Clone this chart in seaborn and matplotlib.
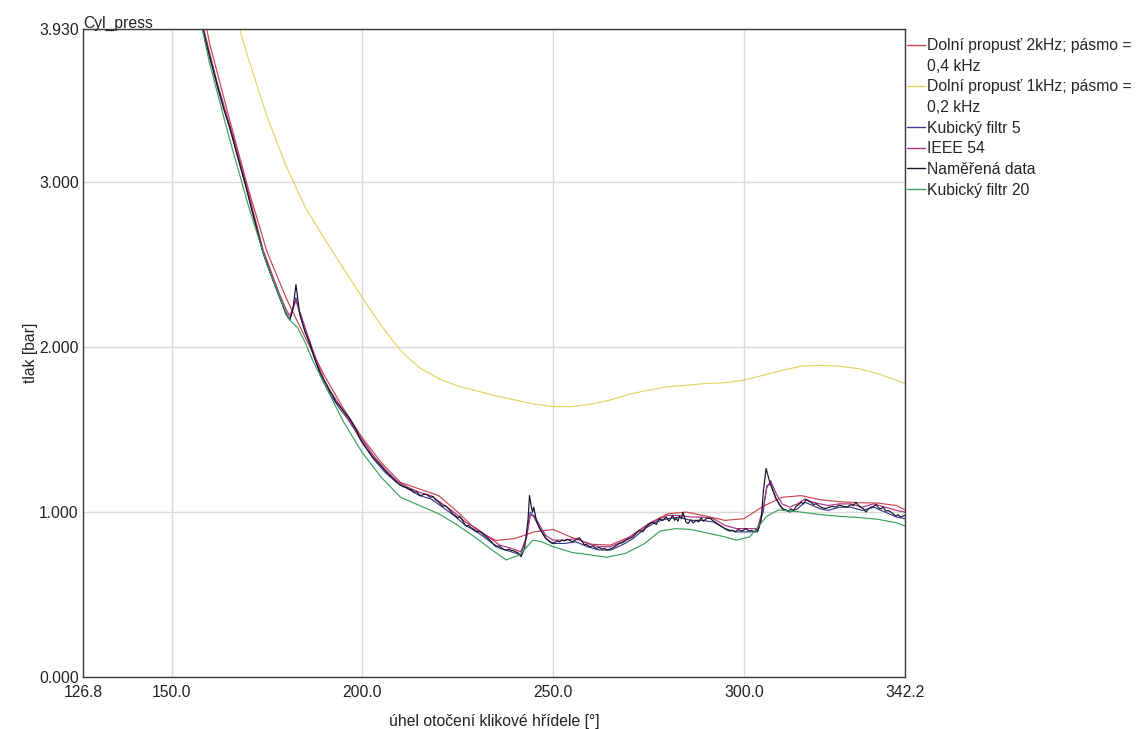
import numpy as np
import pandas as pd
import matplotlib
matplotlib.use("Agg")
import matplotlib.pyplot as plt
import seaborn as sns
from matplotlib.lines import Line2D

# ---------------- data ----------------
series_names = [
    "Dolní propusť 2kHz; pásmo = 0,4 kHz",
    "Dolní propusť 1kHz; pásmo = 0,2 kHz",
    "Kubický filtr 5",
    "IEEE 54",
    "Naměřená data",
    "Kubický filtr 20",
]
legend_labels = [
    "Dolní propusť 2kHz; pásmo =", "0,4 kHz",
    "Dolní propusť 1kHz; pásmo =", "0,2 kHz",
    "Kubický filtr 5", "IEEE 54", "Naměřená data", "Kubický filtr 20",
]

xticks = [126.8, 150.0, 200.0, 250.0, 300.0, 342.2]
xtick_labels = ["126.8", "150.0", "200.0", "250.0", "300.0", "342.2"]
yticks = [0.0, 1.0, 2.0, 3.0, 3.93]
ytick_labels = ["0.000", "1.000", "2.000", "3.000", "3.930"]

# smooth low-pass curves
lp_angle = [126.8, 140, 150, 155, 160, 165, 170, 175, 180, 185,
            190, 195, 200, 205, 210, 215, 220, 225, 230, 235,
            240, 245, 250, 255, 260, 265, 270, 275, 280, 285,
            290, 295, 300, 305, 310, 315, 320, 325, 330, 335,
            340, 342.2]
lp2k_value = [7.6, 6.1, 5.0, 4.42, 3.84, 3.40, 2.97, 2.58, 2.30, 2.06,
              1.83, 1.63, 1.45, 1.30, 1.18, 1.14, 1.10, 1.0, 0.89, 0.828,
              0.84, 0.88, 0.895, 0.845, 0.805, 0.80, 0.85, 0.93, 0.99, 1.0,
              0.976, 0.95, 0.96, 1.035, 1.09, 1.10, 1.075, 1.063, 1.057, 1.055,
              1.04, 1.013]
lp1k_value = [7.6, 6.3, 5.4, 4.95, 4.55, 4.16, 3.76, 3.40, 3.10, 2.85,
              2.66, 2.48, 2.30, 2.13, 1.98, 1.875, 1.81, 1.765, 1.735, 1.705,
              1.68, 1.655, 1.64, 1.64, 1.655, 1.68, 1.715, 1.74, 1.76, 1.77,
              1.78, 1.785, 1.80, 1.83, 1.86, 1.885, 1.89, 1.885, 1.87, 1.84,
              1.80, 1.78]

# filtered curves (cubic 5, IEEE 54)
flt_angle = [126.8, 140, 150, 155, 158, 162, 166, 170, 174, 178,
             180, 181, 182.6, 184, 186, 188, 190, 192, 194, 196,
             198, 200, 203, 206, 209, 212, 215, 218, 221, 224,
             227, 230, 233, 236, 239, 241.5, 243, 244, 245, 246.5,
             248, 250, 253, 256, 259, 262, 265, 268, 271, 274,
             277, 280, 283, 286, 289, 292, 295, 298, 301, 303.5,
             305, 306, 307, 308.5, 310, 312, 314, 316, 318, 320,
             322, 325, 328, 331, 334, 337, 340, 342.2]
cub5_value = [7.5, 6.0, 4.9, 4.3, 3.95, 3.58, 3.27, 2.93, 2.57, 2.32,
              2.21, 2.17, 2.30, 2.17, 2.03, 1.90, 1.78, 1.70, 1.63, 1.57,
              1.50, 1.42, 1.32, 1.24, 1.18, 1.14, 1.10, 1.08, 1.03, 0.98,
              0.92, 0.88, 0.83, 0.78, 0.76, 0.74, 0.85, 1.0, 0.97, 0.90,
              0.84, 0.81, 0.81, 0.82, 0.79, 0.77, 0.77, 0.80, 0.84, 0.90,
              0.94, 0.96, 0.97, 0.95, 0.95, 0.94, 0.90, 0.88, 0.88, 0.88,
              1.0, 1.16, 1.17, 1.08, 1.02, 1.00, 1.02, 1.06, 1.04, 1.02,
              1.01, 1.03, 1.03, 1.01, 1.03, 1.00, 0.97, 0.96]
ieee_value = [7.5, 6.0, 4.9, 4.32, 3.97, 3.6, 3.29, 2.95, 2.59, 2.34,
              2.23, 2.19, 2.28, 2.19, 2.05, 1.92, 1.80, 1.72, 1.65, 1.58,
              1.51, 1.44, 1.34, 1.26, 1.19, 1.15, 1.12, 1.10, 1.05, 1.0,
              0.94, 0.90, 0.85, 0.80, 0.78, 0.76, 0.84, 0.98, 0.98, 0.92,
              0.86, 0.83, 0.83, 0.84, 0.81, 0.79, 0.79, 0.82, 0.86, 0.91,
              0.95, 0.98, 0.98, 0.97, 0.97, 0.96, 0.92, 0.90, 0.90, 0.90,
              1.02, 1.15, 1.19, 1.11, 1.05, 1.03, 1.05, 1.08, 1.06, 1.05,
              1.04, 1.05, 1.05, 1.03, 1.05, 1.03, 1.01, 1.0]

# measured data as (angle, pressure) pairs
meas_points = [
    (126.8, 7.5), (140, 6.0), (150, 4.9), (155, 4.32), (158.2, 3.93),
    (160, 3.76), (162, 3.59), (163.6, 3.45), (165.3, 3.33), (167, 3.18),
    (169.2, 3.0), (171.5, 2.79), (173.9, 2.58), (176, 2.44), (178.4, 2.30),
    (180, 2.20), (181, 2.165), (181.8, 2.23), (182.6, 2.38), (183.1, 2.29),
    (183.6, 2.20), (185, 2.09), (186.2, 2.03), (187.5, 1.93), (189, 1.84),
    (190.5, 1.78), (191.3, 1.74), (192.2, 1.71), (193, 1.67), (194, 1.645),
    (195.5, 1.60), (196.5, 1.575), (197.5, 1.535), (198.4, 1.50), (199.3, 1.45),
    (201, 1.39), (202.7, 1.335), (204.5, 1.29), (206.4, 1.24), (208, 1.205),
    (209.8, 1.165), (210.6, 1.155), (211.5, 1.15), (212.2, 1.14), (213, 1.135),
    (213.6, 1.12), (214.2, 1.125), (214.9, 1.105), (215.5, 1.10), (216.2, 1.11),
    (217, 1.105), (217.8, 1.09), (218.5, 1.095), (219.2, 1.075), (219.8, 1.065),
    (220.5, 1.05), (221.1, 1.035), (221.7, 1.04), (222.4, 1.025), (223, 1.01),
    (223.7, 0.99), (224.3, 0.98), (225, 0.965), (225.5, 0.975), (226, 0.96),
    (226.6, 0.935), (227.2, 0.915), (227.8, 0.92), (228.5, 0.905), (229.2, 0.895),
    (229.9, 0.88), (230.5, 0.885), (231.2, 0.875), (231.9, 0.86), (232.5, 0.85),
    (233.2, 0.835), (233.8, 0.82), (234.5, 0.80), (235.1, 0.79), (235.7, 0.795),
    (236.4, 0.785), (237, 0.775), (237.7, 0.77), (238.4, 0.775), (239, 0.768),
    (239.7, 0.765), (240.3, 0.758), (241, 0.75), (241.6, 0.73), (242.5, 0.78),
    (243, 0.87), (243.4, 0.95), (243.8, 1.10), (244.3, 1.03), (244.6, 1.00),
    (244.9, 1.03), (245.6, 0.95), (246.5, 0.90), (247.3, 0.87), (248.2, 0.84),
    (249.1, 0.82), (249.8, 0.81), (250.4, 0.815), (251, 0.825), (251.7, 0.82),
    (252.3, 0.83), (253, 0.825), (253.6, 0.835), (254.3, 0.83), (255, 0.82),
    (255.6, 0.828), (256.2, 0.835), (256.9, 0.845), (257.3, 0.83), (257.8, 0.815),
    (258.2, 0.80), (258.7, 0.805), (259.5, 0.79), (260.4, 0.795), (261.2, 0.78),
    (262.1, 0.785), (262.8, 0.775), (263.5, 0.78), (264.1, 0.77), (264.8, 0.775),
    (265.4, 0.78), (266.1, 0.79), (266.7, 0.80), (267.4, 0.81), (268.2, 0.815),
    (269.1, 0.83), (270, 0.84), (270.9, 0.85), (271.7, 0.87), (272.6, 0.89),
    (273.5, 0.88), (274.4, 0.91), (275.2, 0.93), (276.1, 0.94), (277, 0.925),
    (277.8, 0.96), (278.7, 0.95), (279.6, 0.97), (280.4, 0.945), (281.3, 0.98),
    (281.8, 0.95), (282.2, 0.965), (282.7, 0.945), (283.1, 0.975), (283.6, 0.96),
    (284.0, 1.0), (284.4, 0.97), (284.8, 0.94), (285.4, 0.93), (286, 0.955),
    (286.7, 0.935), (287.5, 0.95), (288.1, 0.94), (288.8, 0.965), (289.4, 0.945),
    (290.1, 0.96), (291, 0.965), (291.8, 0.95), (292.4, 0.94), (293, 0.93),
    (293.7, 0.92), (294.4, 0.91), (295, 0.90), (295.7, 0.89), (296.3, 0.885),
    (297.0, 0.89), (297.7, 0.88), (298.5, 0.895), (299.5, 0.885), (300.5, 0.90),
    (301.3, 0.885), (302, 0.89), (302.6, 0.88), (303.2, 0.895), (303.6, 0.885),
    (304, 0.91), (304.5, 0.95), (305.1, 1.13), (305.8, 1.265), (306.6, 1.195),
    (307.5, 1.135), (308.4, 1.08), (309.3, 1.045), (310.2, 1.02), (311.0, 1.013),
    (311.6, 1.005), (312.3, 1.02), (313, 1.01), (313.6, 1.033), (314.3, 1.045),
    (315, 1.06), (315.6, 1.05), (316.3, 1.077), (317, 1.065), (317.6, 1.06),
    (318.3, 1.045), (318.9, 1.052), (319.5, 1.04), (320.2, 1.03), (320.8, 1.025),
    (321.5, 1.022), (322.3, 1.03), (323.2, 1.035), (324, 1.03), (325.0, 1.043),
    (326, 1.035), (327, 1.03), (328, 1.045), (328.7, 1.04), (329.3, 1.06),
    (330, 1.04), (330.6, 1.03), (331.3, 1.02), (332.0, 1.0), (332.6, 1.02),
    (333.3, 1.03), (334, 1.035), (334.6, 1.045), (335.3, 1.025), (335.9, 1.02),
    (336.5, 1.03), (337.2, 1.005), (337.8, 1.01), (338.5, 1.0), (339.1, 0.99),
    (339.8, 0.975), (340.4, 0.985), (341, 0.97), (341.6, 0.975), (342.2, 0.98),
]
meas_angle = [p[0] for p in meas_points]
meas_value = [p[1] for p in meas_points]

# cubic filter 20
cub20_angle = [126.8, 140, 150, 155, 160, 165, 170, 175, 180, 181,
               183, 185, 187, 190, 195, 200, 205, 210, 215, 220,
               225, 230, 234, 237.7, 241.2, 244.7, 247, 250, 255, 260,
               264, 269, 274, 278, 282, 286, 291, 295, 298, 301.5,
               304, 306, 309, 314, 320, 325, 330, 335, 340, 342.2]
cub20_value = [7.3, 5.8, 4.75, 4.25, 3.72, 3.28, 2.87, 2.50, 2.21, 2.165,
               2.12, 2.03, 1.92, 1.78, 1.55, 1.36, 1.21, 1.09, 1.04, 0.99,
               0.92, 0.84, 0.77, 0.71, 0.74, 0.83, 0.82, 0.79, 0.755, 0.74,
               0.726, 0.75, 0.81, 0.885, 0.90, 0.895, 0.87, 0.85, 0.83, 0.85,
               0.92, 0.975, 1.013, 1.003, 0.985, 0.975, 0.967, 0.957, 0.935, 0.916]

colors = ["#c8474f", "#e3d462", "#3c3c8c", "#b0307e", "#15152a", "#3ba05c"]

# ---------------- build long-form table ----------------
parts = [
    (series_names[0], lp_angle, lp2k_value),
    (series_names[1], lp_angle, lp1k_value),
    (series_names[2], flt_angle, cub5_value),
    (series_names[3], flt_angle, ieee_value),
    (series_names[4], meas_angle, meas_value),
    (series_names[5], cub20_angle, cub20_value),
]
df = pd.concat(
    [pd.DataFrame({"angle": a, "tlak": v, "serie": n}) for n, a, v in parts],
    ignore_index=True,
)

# ---------------- style ----------------
FS = 11.3
sns.set_style("white")
plt.rcParams["font.family"] = ["Liberation Sans", "DejaVu Sans"]
plt.rcParams["font.size"] = FS

W, H = 1139, 729
fig = plt.figure(figsize=(W / 100, H / 100), dpi=100)
ax = fig.add_axes([83 / W, 1 - 677 / H, (905 - 83) / W, (677 - 29) / H])

sns.lineplot(
    data=df, x="angle", y="tlak", hue="serie", hue_order=series_names,
    palette=colors, estimator=None, linewidth=0.85, legend=False, ax=ax,
)

ax.set_xlim(126.8, 342.2)
ax.set_ylim(0, 3.93)
ax.set_xticks(xticks)
ax.set_xticklabels(xtick_labels)
ax.set_yticks(yticks)
ax.set_yticklabels(ytick_labels)
ax.tick_params(axis="x", length=0, pad=6, labelsize=FS, colors="#222222")
ax.tick_params(axis="y", length=0, pad=3, labelsize=FS, colors="#222222")
ax.grid(True, color="#d9d9d9", linewidth=1.0)
ax.set_axisbelow(True)
for s in ax.spines.values():
    s.set_color("#3a3a3a")
    s.set_linewidth(1.0)

ax.set_xlabel("úhel otočení klikové hřídele [°]", fontsize=FS, labelpad=10, color="#222222")
ax.set_ylabel("tlak [bar]", fontsize=FS, labelpad=1, color="#222222")
ax.set_title("Cyl_press", loc="left", pad=1, fontsize=FS, color="#222222")

# legend (wrapped names: continuation rows get an invisible handle)
handles = [
    Line2D([], [], color=colors[0], lw=1.0), Line2D([], [], color="none"),
    Line2D([], [], color=colors[1], lw=1.0), Line2D([], [], color="none"),
    Line2D([], [], color=colors[2], lw=1.0),
    Line2D([], [], color=colors[3], lw=1.0),
    Line2D([], [], color=colors[4], lw=1.0),
    Line2D([], [], color=colors[5], lw=1.0),
]
fig.legend(
    handles, legend_labels, loc="upper left",
    bbox_to_anchor=(907 / W, 1 - 38 / H), bbox_transform=fig.transFigure,
    frameon=False, borderpad=0, borderaxespad=0, handlelength=1.15,
    handletextpad=0.15, labelspacing=0.36, fontsize=FS,
)

fig.savefig("out.png", dpi=100)
